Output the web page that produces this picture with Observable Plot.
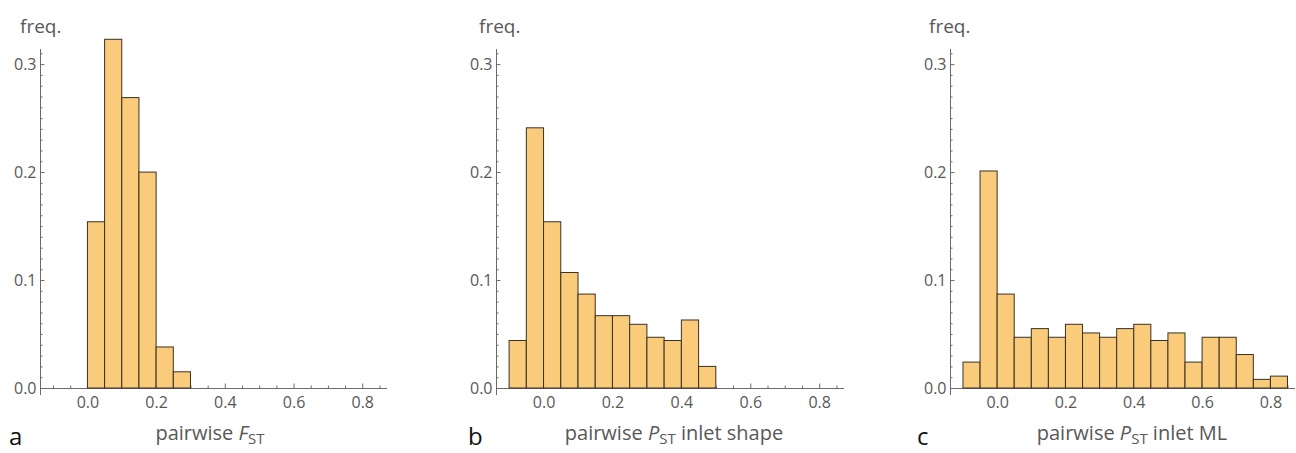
<!DOCTYPE html>
<html><head><meta charset="utf-8">
<script src="https://cdn.jsdelivr.net/npm/d3@7"></script>
<script src="https://cdn.jsdelivr.net/npm/@observablehq/plot@0.6"></script>
<style>
body{margin:0;background:#fff;}
#wrap{position:relative;width:1296px;height:453px;overflow:hidden;font-family:"Open Sans",sans-serif;}
.panel{position:absolute;top:0;width:432px;height:453px;}
.panel svg{position:absolute;left:0;top:0;}
#overlay{position:absolute;left:0;top:0;pointer-events:none;}
</style></head><body><div id="wrap"></div>
<script>
// ---- data ----
const edgesA = [0.00, 0.05, 0.10, 0.15, 0.20, 0.25, 0.30];
const freqA  = [0.154, 0.323, 0.269, 0.200, 0.038, 0.015];

const edgesB = [-0.10, -0.05, 0.00, 0.05, 0.10, 0.15, 0.20, 0.25, 0.30, 0.35, 0.40, 0.45, 0.50];
const freqB  = [0.044, 0.241, 0.154, 0.107, 0.087, 0.067, 0.067, 0.059, 0.047, 0.044, 0.063, 0.020];

const edgesC = [-0.10, -0.05, 0.00, 0.05, 0.10, 0.15, 0.20, 0.25, 0.30, 0.35, 0.40, 0.45, 0.50, 0.55, 0.60, 0.65, 0.70, 0.75, 0.80, 0.85];
const freqC  = [0.024, 0.201, 0.087, 0.047, 0.055, 0.047, 0.059, 0.051, 0.047, 0.055, 0.059, 0.044, 0.051, 0.024, 0.047, 0.047, 0.031, 0.008, 0.011];

const xTickLabels = [0.0, 0.2, 0.4, 0.6, 0.8];
const yTickLabels = [0.0, 0.1, 0.2, 0.3];
const xMinorTicks = [-0.10, -0.05, 0.05, 0.10, 0.15, 0.25, 0.30, 0.35, 0.45, 0.50, 0.55, 0.65, 0.70, 0.75, 0.85];
const yMinorTicks = d3.range(1, 32).map(k => k / 100).filter(v => Math.round(v * 100) % 10 !== 0);

const panelLetters = ["a", "b", "c"];
const yLabelText = "freq.";
const xLabelParts = [
  ["pairwise ", "F", "ST", ""],
  ["pairwise ", "P", "ST", " inlet shape"],
  ["pairwise ", "P", "ST", " inlet ML"]
];

// ---- layout ----
const W = 432, H = 453;
const xDomain = [-0.138, 0.872];
const yDomain = [0, 0.314];
const panels = [
  {left: 0,   ml: 40, mr: 45, edges: edgesA, freq: freqA, freqX: 20,  letterX: 9,   labelX: 210},
  {left: 432, ml: 64, mr: 20, edges: edgesB, freq: freqB, freqX: 47,  letterX: 36,  labelX: 242},
  {left: 864, ml: 86, mr: 1,  edges: edgesC, freq: freqC, freqX: 65,  letterX: 53,  labelX: 268}
];

const axisColor = "#6b6b6b";
const textColor = "#585858";
const wrap = document.getElementById("wrap");

panels.forEach((p, idx) => {
  const rows = p.freq.map((f, i) => ({x1: p.edges[i], x2: p.edges[i + 1], f}));
  const chart = Plot.plot({
    width: W, height: H,
    marginLeft: p.ml, marginRight: p.mr, marginTop: 49, marginBottom: 65,
    x: {domain: xDomain},
    y: {domain: yDomain},
    style: {fontFamily: "Open Sans", fontSize: "16px", color: textColor, background: "transparent", overflow: "visible"},
    marks: [
      // inward ticks on x axis
      Plot.ruleX(xMinorTicks, {x: d => d, y1: 0, y2: 0, insetBottom: 2.5, stroke: axisColor}),
      Plot.ruleX(xTickLabels, {x: d => d, y1: 0, y2: 0, insetBottom: 4.5, stroke: axisColor}),
      // inward ticks on y axis
      Plot.ruleY(yMinorTicks, {y: d => d, x1: xDomain[0], x2: xDomain[0], insetRight: -2.5, stroke: axisColor}),
      Plot.ruleY(yTickLabels, {y: d => d, x1: xDomain[0], x2: xDomain[0], insetRight: -4.5, stroke: axisColor}),
      // axis lines
      Plot.ruleY([0], {stroke: axisColor}),
      Plot.ruleX([xDomain[0]], {stroke: axisColor, insetBottom: -7}),
      // bars
      Plot.rectY(rows, {x1: "x1", x2: "x2", y: "f", fill: "#F9CB7B", stroke: "#3a3125", strokeWidth: 1}),
      // tick labels
      Plot.axisX({ticks: xTickLabels, tickSize: 0, tickPadding: 8, tickFormat: d3.format(".1f"), label: null, fontSize: 16}),
      Plot.axisY({ticks: yTickLabels, tickSize: 0, tickPadding: 4, tickFormat: d3.format(".1f"), label: null, fontSize: 16})
    ]
  });
  const div = document.createElement("div");
  div.className = "panel";
  div.style.left = p.left + "px";
  div.appendChild(chart);
  wrap.appendChild(div);
});

// ---- text labels overlay ----
const svg = d3.select(wrap).append("svg").attr("id", "overlay")
  .attr("width", 1296).attr("height", H)
  .style("font-family", "Open Sans, sans-serif");

panels.forEach((p, idx) => {
  svg.append("text").attr("x", p.left + p.freqX).attr("y", 33)
    .attr("font-size", 19).attr("fill", textColor).text(yLabelText);
  svg.append("text").attr("x", p.left + p.letterX).attr("y", 445)
    .attr("font-size", 24).attr("fill", "#111").text(panelLetters[idx]);
  const parts = xLabelParts[idx];
  const t = svg.append("text").attr("x", p.left + p.labelX).attr("y", 440)
    .attr("text-anchor", "middle").attr("font-size", 20).attr("fill", textColor);
  t.append("tspan").text(parts[0]);
  t.append("tspan").attr("font-style", "italic").text(parts[1]);
  t.append("tspan").attr("font-size", 15).attr("dy", 4).text(parts[2]);
  if (parts[3]) t.append("tspan").attr("dy", -4).text(parts[3]);
});
</script>
</body></html>
